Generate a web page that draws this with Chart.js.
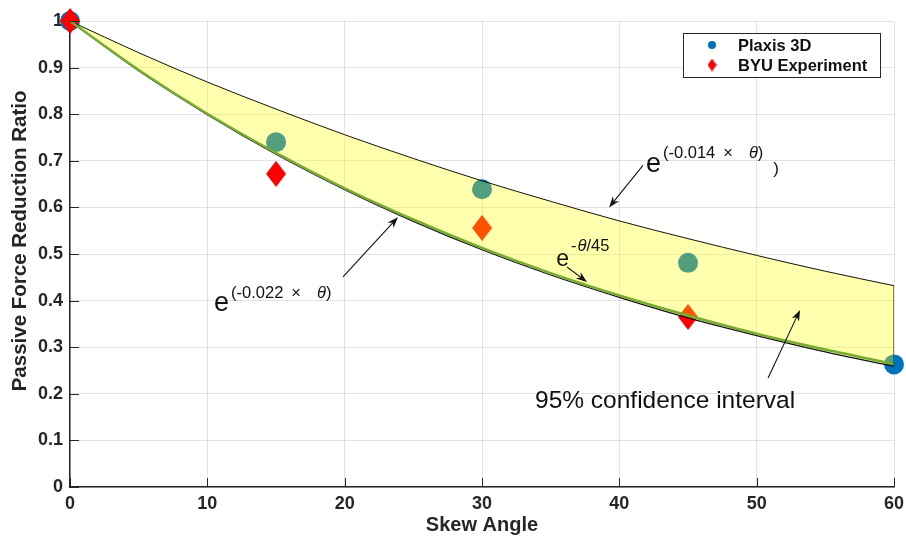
<!DOCTYPE html>
<html>
<head>
<meta charset="utf-8">
<script src="https://cdn.jsdelivr.net/npm/chart.js@4.4.0/dist/chart.umd.min.js"></script>
<style>
    html, body { margin: 0; padding: 0; background: #fff; }
</style>
</head>
<body>
<canvas id="skewChart" width="906" height="537"></canvas>
<script>
// curves every 5 degrees
const skewAngles = [0, 5, 10, 15, 20, 25, 30, 35, 40, 45, 50, 55, 60];
const upperBound = [1.000, 0.932, 0.869, 0.811, 0.756, 0.705, 0.657, 0.613, 0.571, 0.533, 0.497, 0.463, 0.432];
const lowerBound = [1.000, 0.893, 0.799, 0.714, 0.638, 0.570, 0.509, 0.455, 0.407, 0.363, 0.325, 0.290, 0.259];
const fitCurve   = [1.000, 0.895, 0.801, 0.717, 0.641, 0.574, 0.513, 0.459, 0.411, 0.368, 0.329, 0.295, 0.264];

const plaxisAngles = [0, 15, 30, 45, 60];
const plaxisRatios = [1.000, 0.740, 0.639, 0.481, 0.263];
const byuAngles = [0, 15, 30, 45];
const byuRatios = [1.000, 0.672, 0.556, 0.365];

const xTickLabels = ['0', '10', '20', '30', '40', '50', '60'];
const yTickLabels = ['0', '0.1', '0.2', '0.3', '0.4', '0.5', '0.6', '0.7', '0.8', '0.9', '1'];

const FONT = "'Liberation Sans', Arial, Helvetica, sans-serif";
const AXIS_COLOR = '#262626';
const BLUE = '#0072BD';
const RED = '#FF0000';
const GREEN = 'rgb(119, 172, 48)';

function toPoints(xs, ys) {
    return xs.map((x, i) => ({ x: x, y: ys[i] }));
}

// tall diamond like the matlab 'd' marker
function makeDiamond(w, h, color) {
    const c = document.createElement('canvas');
    c.width = w;
    c.height = h;
    const g = c.getContext('2d');
    g.fillStyle = color;
    g.beginPath();
    g.moveTo(w / 2, 0);
    g.lineTo(w, h / 2);
    g.lineTo(w / 2, h);
    g.lineTo(0, h / 2);
    g.closePath();
    g.fill();
    return c;
}

const bigDiamond = makeDiamond(20, 26, RED);
const smallDiamond = makeDiamond(9, 13, RED);

function drawArrow(ctx, x1, y1, x2, y2) {
    const ang = Math.atan2(y2 - y1, x2 - x1);
    const len = 11, half = 4;
    ctx.beginPath();
    ctx.moveTo(x1, y1);
    ctx.lineTo(x2 - Math.cos(ang) * len * 0.7, y2 - Math.sin(ang) * len * 0.7);
    ctx.stroke();
    ctx.beginPath();
    ctx.moveTo(x2, y2);
    ctx.lineTo(x2 - Math.cos(ang) * len - Math.sin(ang) * half, y2 - Math.sin(ang) * len + Math.cos(ang) * half);
    ctx.lineTo(x2 - Math.cos(ang) * len * 0.7, y2 - Math.sin(ang) * len * 0.7);
    ctx.lineTo(x2 - Math.cos(ang) * len + Math.sin(ang) * half, y2 - Math.sin(ang) * len - Math.cos(ang) * half);
    ctx.closePath();
    ctx.fill();
}

// draws base text then superscript pieces, returns end x
function drawFormula(ctx, px, py, baseSize, supSize, raise, pieces) {
    ctx.font = baseSize + 'px ' + FONT;
    ctx.fillText('e', px, py);
    let cx = px + ctx.measureText('e').width + 2;
    pieces.forEach(p => {
        ctx.font = (p.italic ? 'italic ' : '') + supSize + 'px ' + FONT;
        ctx.fillText(p.t, cx, py - raise);
        cx += ctx.measureText(p.t).width + (p.gap || 0);
    });
    return cx;
}

// annotations are placed in data units (skew angle, ratio)
const annotationPlugin = {
    id: 'annotations',
    afterDatasetsDraw(chart) {
        const { ctx, scales } = chart;
        const X = v => scales.x.getPixelForValue(v);
        const Y = v => scales.y.getPixelForValue(v);
        ctx.save();
        ctx.fillStyle = '#111';
        ctx.strokeStyle = '#111';
        ctx.lineWidth = 1.1;
        ctx.textBaseline = 'alphabetic';
        ctx.textAlign = 'left';

        const expPieces = coef => [
            { t: '(' + coef, gap: 8 },
            { t: '\u00d7', gap: 16 },
            { t: '\u03b8', italic: true },
            { t: ')' }
        ];

        // upper bound label
        drawFormula(ctx, X(41.94), Y(0.676), 27, 16.5, 14, expPieces('-0.014'));
        ctx.font = '17px ' + FONT;
        ctx.fillText(')', X(51.2), Y(0.672));
        drawArrow(ctx, X(41.72), Y(0.690), X(39.25), Y(0.600));

        // lower bound label
        drawFormula(ctx, X(10.49), Y(0.378), 27, 16.5, 13, expPieces('-0.022'));
        drawArrow(ctx, X(19.88), Y(0.451), X(23.88), Y(0.579));

        // fitted curve label
        drawFormula(ctx, X(35.40), Y(0.474), 23, 16.5, 15, [
            { t: '-', gap: 1 },
            { t: '\u03b8', italic: true },
            { t: '/45' }
        ]);
        drawArrow(ctx, X(36.19), Y(0.472), X(37.65), Y(0.440));

        ctx.font = '24.5px ' + FONT;
        ctx.fillText('95% confidence interval', X(33.86), Y(0.170));
        drawArrow(ctx, X(50.83), Y(0.234), X(53.16), Y(0.380));
        ctx.restore();
    }
};

// matlab style ticks pointing into the axes, plus the y title
const innerTicksPlugin = {
    id: 'innerTicks',
    afterDatasetsDraw(chart) {
        const { ctx, chartArea, scales } = chart;
        ctx.save();
        ctx.strokeStyle = AXIS_COLOR;
        ctx.lineWidth = 1;
        scales.x.ticks.forEach(t => {
            const px = Math.round(scales.x.getPixelForValue(t.value)) + 0.5;
            ctx.beginPath();
            ctx.moveTo(px, chartArea.bottom);
            ctx.lineTo(px, chartArea.bottom - 9);
            ctx.stroke();
        });
        scales.y.ticks.forEach(t => {
            const py = Math.round(scales.y.getPixelForValue(t.value)) + 0.5;
            ctx.beginPath();
            ctx.moveTo(chartArea.left, py);
            ctx.lineTo(chartArea.left + 9, py);
            ctx.stroke();
        });

        ctx.translate(20, chartArea.top + chartArea.height * 0.472);
        ctx.rotate(-Math.PI / 2);
        ctx.fillStyle = AXIS_COLOR;
        ctx.font = 'bold 20.5px ' + FONT;
        ctx.textAlign = 'center';
        ctx.textBaseline = 'middle';
        ctx.fillText('Passive Force Reduction Ratio', 0, 0);
        ctx.restore();
    }
};

const legendPlugin = {
    id: 'boxLegend',
    afterDraw(chart) {
        const { ctx, chartArea } = chart;
        const right = chartArea.right - 14;
        const left = right - 197;
        const top = chartArea.top + 12;
        const rowH = 20;
        ctx.save();
        ctx.fillStyle = '#fff';
        ctx.fillRect(left, top, right - left, 44);
        ctx.strokeStyle = '#262626';
        ctx.lineWidth = 1;
        ctx.strokeRect(left + 0.5, top + 0.5, right - left, 44);

        const items = [
            { label: chart.data.datasets[0].label, kind: 'circle' },
            { label: chart.data.datasets[1].label, kind: 'diamond' }
        ];
        items.forEach((it, i) => {
            const cy = top + 12 + i * rowH;
            const mx = left + 29;
            if (it.kind === 'circle') {
                ctx.fillStyle = BLUE;
                ctx.beginPath();
                ctx.arc(mx, cy, 4, 0, Math.PI * 2);
                ctx.fill();
            } else {
                ctx.drawImage(smallDiamond, mx - 4.5, cy - 6.5);
            }
            ctx.fillStyle = '#111';
            ctx.font = 'bold 16.5px ' + FONT;
            ctx.textBaseline = 'middle';
            ctx.fillText(it.label, left + 55, cy + 1);
        });
        ctx.restore();
    }
};

const ctx = document.getElementById('skewChart').getContext('2d');
const skewChart = new Chart(ctx, {
    type: 'scatter',
    data: {
        datasets: [
            {
                label: 'Plaxis 3D',
                data: toPoints(plaxisAngles, plaxisRatios),
                pointStyle: 'circle',
                pointRadius: 10,
                pointBackgroundColor: BLUE,
                pointBorderWidth: 0,
                clip: false,
                order: 5
            },
            {
                label: 'BYU Experiment',
                data: toPoints(byuAngles, byuRatios),
                pointStyle: bigDiamond,
                pointRadius: 10,
                clip: false,
                order: 4
            },
            {
                label: 'upper bound',
                data: toPoints(skewAngles, upperBound),
                showLine: true,
                borderColor: '#111',
                borderWidth: 1,
                pointRadius: 0,
                cubicInterpolationMode: 'monotone',
                fill: '+1',
                backgroundColor: 'rgba(255, 255, 0, 0.32)',
                order: 3
            },
            {
                label: 'lower bound',
                data: toPoints(skewAngles, lowerBound),
                showLine: true,
                borderColor: '#111',
                borderWidth: 1.2,
                pointRadius: 0,
                cubicInterpolationMode: 'monotone',
                order: 2
            },
            {
                label: 'fit',
                data: toPoints(skewAngles, fitCurve),
                showLine: true,
                borderColor: GREEN,
                borderWidth: 2.5,
                pointRadius: 0,
                cubicInterpolationMode: 'monotone',
                order: 1
            },
            {
                label: 'edge',
                data: [
                    { x: skewAngles[skewAngles.length - 1], y: upperBound[upperBound.length - 1] },
                    { x: skewAngles[skewAngles.length - 1], y: lowerBound[lowerBound.length - 1] }
                ],
                showLine: true,
                borderColor: '#333',
                borderWidth: 1.2,
                pointRadius: 0,
                order: 0
            }
        ]
    },
    options: {
        responsive: false,
        animation: false,
        layout: {
            padding: { top: 21, right: 12, left: 0, bottom: 0 }
        },
        plugins: {
            legend: { display: false },
            tooltip: { enabled: false },
            title: { display: false }
        },
        scales: {
            x: {
                type: 'linear',
                min: 0,
                max: 60,
                afterFit: scale => {
                    scale.height = 50;
                    scale.paddingLeft = 0;
                    scale.paddingRight = 0;
                },
                ticks: {
                    stepSize: 10,
                    padding: 6,
                    color: AXIS_COLOR,
                    font: { family: FONT, size: 18, weight: 'bold' },
                    callback: (v, i) => xTickLabels[i]
                },
                grid: { color: 'rgba(0, 0, 0, 0.11)', drawTicks: false },
                border: { color: AXIS_COLOR, width: 1.5 },
                title: {
                    display: true,
                    text: 'Skew Angle',
                    color: AXIS_COLOR,
                    font: { family: FONT, size: 20, weight: 'bold', lineHeight: 1.2 },
                    padding: { top: 0, bottom: 0 }
                }
            },
            y: {
                type: 'linear',
                min: 0,
                max: 1,
                afterFit: scale => {
                    scale.width = 70;
                    scale.paddingTop = 0;
                    scale.paddingBottom = 0;
                },
                ticks: {
                    stepSize: 0.1,
                    padding: 7,
                    color: AXIS_COLOR,
                    font: { family: FONT, size: 18, weight: 'bold' },
                    callback: (v, i) => yTickLabels[i]
                },
                grid: { color: 'rgba(0, 0, 0, 0.11)', drawTicks: false },
                border: { color: AXIS_COLOR, width: 1.5 },
                title: { display: false }
            }
        }
    },
    plugins: [innerTicksPlugin, annotationPlugin, legendPlugin]
});
</script>
</body>
</html>
